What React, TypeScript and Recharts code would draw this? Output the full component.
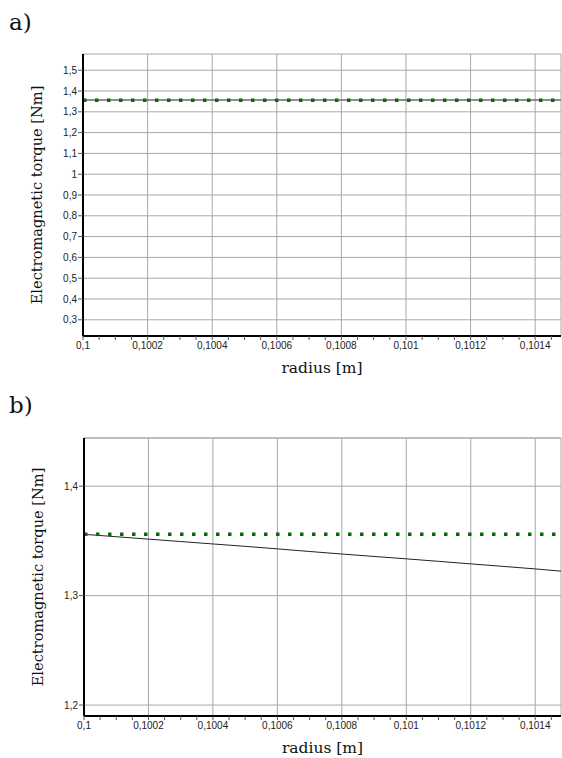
import { LineChart, Line, XAxis, YAxis, CartesianGrid, ReferenceLine } from "recharts";

const RADIUS = [
  0.1, 0.1001, 0.1002, 0.1003, 0.1004, 0.1005, 0.1006, 0.1007, 0.1008, 0.1009,
  0.101, 0.1011, 0.1012, 0.1013, 0.1014, 0.1015,
];

// analytical torque (green dotted), same in both panels
const TORQUE_ANALYTICAL = [
  1.356, 1.356, 1.356, 1.356, 1.356, 1.356, 1.356, 1.356, 1.356, 1.356,
  1.356, 1.356, 1.356, 1.356, 1.356, 1.356,
];

// panel a) solid line
const TORQUE_A = [
  1.357, 1.357, 1.357, 1.357, 1.357, 1.357, 1.357, 1.357, 1.357, 1.357,
  1.357, 1.357, 1.357, 1.357, 1.357, 1.357,
];

// panel b) solid line
const TORQUE_B = [
  1.356, 1.3538, 1.3516, 1.3494, 1.3472, 1.345, 1.3427, 1.3403, 1.338, 1.3358,
  1.3336, 1.3313, 1.329, 1.3267, 1.3244, 1.3218,
];

const X_TICKS = [0.1, 0.1002, 0.1004, 0.1006, 0.1008, 0.101, 0.1012, 0.1014];
const X_ALL_TICKS = [
  0.1, 0.10005, 0.1001, 0.10015, 0.1002, 0.10025, 0.1003, 0.10035, 0.1004,
  0.10045, 0.1005, 0.10055, 0.1006, 0.10065, 0.1007, 0.10075, 0.1008, 0.10085,
  0.1009, 0.10095, 0.101, 0.10105, 0.1011, 0.10115, 0.1012, 0.10125, 0.1013,
  0.10135, 0.1014, 0.10145,
];
const Y_TICKS_A = [0.3, 0.4, 0.5, 0.6, 0.7, 0.8, 0.9, 1, 1.1, 1.2, 1.3, 1.4, 1.5];
const Y_TICKS_B = [1.2, 1.3, 1.4];

const X_DOMAIN: [number, number] = [0.1, 0.10148];
const Y_DOMAIN_A: [number, number] = [0.222, 1.578];
const Y_DOMAIN_B: [number, number] = [1.19, 1.444];

const dataA = RADIUS.map((r, i) => ({ r, analytical: TORQUE_ANALYTICAL[i], model: TORQUE_A[i] }));
const dataB = RADIUS.map((r, i) => ({ r, analytical: TORQUE_ANALYTICAL[i], model: TORQUE_B[i] }));

const comma = (v: number) => String(v).replace(".", ",");
const xFmt = (v: number) => (X_TICKS.includes(v) ? comma(v) : "");

const SANS = "Arimo, 'Liberation Sans', Arial, sans-serif";
const SERIF = "'DejaVu Serif', serif";
const tickStyle = { fontSize: 10, fill: "#222", style: { fontFamily: SANS } };

const YTitle = (props: any) => {
  const { viewBox } = props;
  const cx = viewBox.x + 13;
  const cy = viewBox.y + viewBox.height / 2;
  return (
    <text
      x={cx}
      y={cy}
      transform={`rotate(-90 ${cx} ${cy})`}
      textAnchor="middle"
      dominantBaseline="central"
      style={{ fontFamily: SERIF, fontSize: 14.6 }}
      fill="#111"
    >
      Electromagnetic torque [Nm]
    </text>
  );
};

const XTitle = (props: any) => {
  const { viewBox } = props;
  return (
    <text
      x={viewBox.x + viewBox.width / 2}
      y={viewBox.y + 32}
      textAnchor="middle"
      dominantBaseline="central"
      style={{ fontFamily: SERIF, fontSize: 15.5 }}
      fill="#111"
    >
      radius [m]
    </text>
  );
};

interface PanelProps {
  data: { r: number; analytical: number; model: number }[];
  height: number;
  margin: { top: number; right: number; left: number; bottom: number };
  yDomain: [number, number];
  yTicks: number[];
  modelColor: string;
  modelWidth: number;
  topBorder?: boolean;
}

const Panel = ({ data, height, margin, yDomain, yTicks, modelColor, modelWidth, topBorder }: PanelProps) => (
  <LineChart width={562} height={height} data={data} margin={margin}>
    <CartesianGrid xAxisId="grid" stroke="#a8a8a8" strokeWidth={1} />
    <XAxis
      xAxisId="grid"
      dataKey="r"
      type="number"
      domain={X_DOMAIN}
      ticks={X_TICKS}
      allowDataOverflow
      hide
    />
    <XAxis
      dataKey="r"
      type="number"
      domain={X_DOMAIN}
      ticks={X_ALL_TICKS}
      interval={0}
      allowDataOverflow
      tickFormatter={xFmt}
      tick={tickStyle}
      tickSize={4}
      tickMargin={2}
      height={40}
      axisLine={{ stroke: "#000", strokeWidth: 2 }}
      tickLine={{ stroke: "#555" }}
      label={XTitle}
    />
    <YAxis
      type="number"
      domain={yDomain}
      ticks={yTicks}
      interval={0}
      allowDataOverflow
      tickFormatter={comma}
      tick={tickStyle}
      tickSize={5}
      tickMargin={1}
      width={60}
      axisLine={{ stroke: "#000", strokeWidth: 2 }}
      tickLine={{ stroke: "#555" }}
      label={YTitle}
    />
    {topBorder && <ReferenceLine y={yDomain[1]} stroke="#aaa" />}
    <Line
      dataKey="model"
      stroke={modelColor}
      strokeWidth={modelWidth}
      dot={false}
      isAnimationActive={false}
    />
    <Line
      dataKey="analytical"
      stroke="#0b6b0b"
      strokeWidth={3.5}
      strokeDasharray="3.5 8.5"
      dot={false}
      isAnimationActive={false}
    />
  </LineChart>
);

const panelLetter = (top: number): React.CSSProperties => ({
  position: "absolute",
  left: 9,
  top,
  fontFamily: SERIF,
  fontSize: 23,
  lineHeight: 1,
  color: "#111",
});

export default function App() {
  return (
    <div style={{ position: "absolute", left: 0, top: 0, width: 562, height: 758, background: "#fff" }}>
      <div style={panelLetter(11)}>a)</div>
      <div style={{ position: "absolute", left: 0, top: 0 }}>
        <Panel
          data={dataA}
          height={390}
          margin={{ top: 54, right: 1, left: 23, bottom: 14 }}
          yDomain={Y_DOMAIN_A}
          yTicks={Y_TICKS_A}
          modelColor="#6a6a6a"
          modelWidth={1.6}
        />
      </div>
      <div style={panelLetter(394)}>b)</div>
      <div style={{ position: "absolute", left: 0, top: 390 }}>
        <Panel
          data={dataB}
          height={368}
          margin={{ top: 48, right: 1, left: 24, bottom: 2 }}
          yDomain={Y_DOMAIN_B}
          yTicks={Y_TICKS_B}
          modelColor="#222"
          modelWidth={1}
          topBorder
        />
      </div>
    </div>
  );
}
